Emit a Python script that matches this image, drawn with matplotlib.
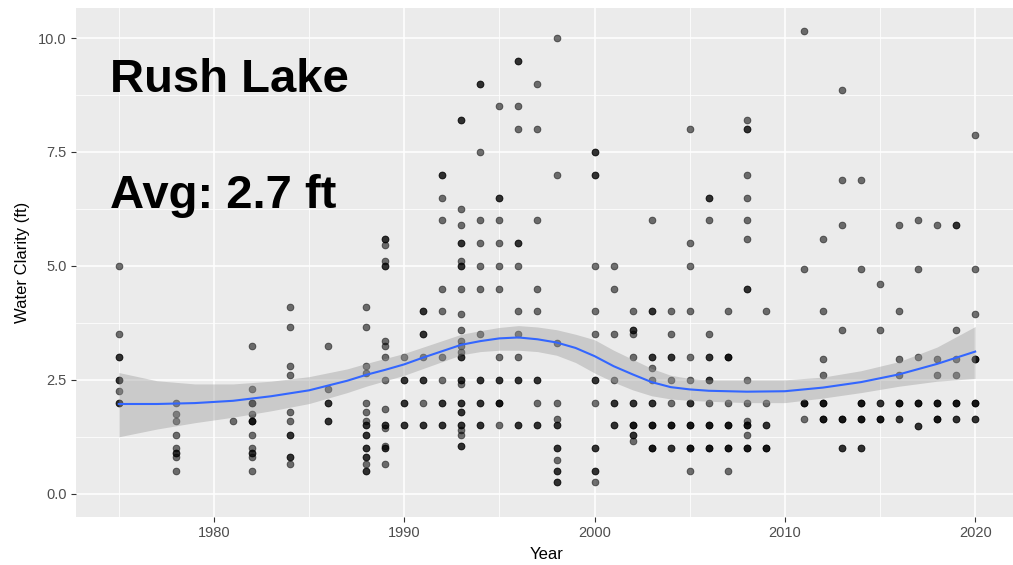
import matplotlib

matplotlib.use("Agg")
import matplotlib.pyplot as plt
from matplotlib.ticker import MultipleLocator

# Secchi readings (ft) per sampling year
years = [1975, 1978, 1981, 1982, 1984, 1986, 1988, 1989, 1990, 1991, 1992, 1993,
         1994, 1995, 1996, 1997, 1998, 2000, 2001, 2002, 2003, 2004, 2005, 2006,
         2007, 2008, 2009, 2011, 2012, 2013, 2014, 2015, 2016, 2017, 2018, 2019, 2020]
readings = [
    [5.0, 3.5, 3.0, 3.0, 2.5, 2.5, 2.25, 2.0, 2.0],
    [2.0, 1.75, 1.6, 1.3, 1.0, 0.9, 0.9, 0.8, 0.5],
    [1.6],
    [3.25, 2.3, 2.0, 2.0, 1.75, 1.6, 1.6, 1.6, 1.3, 1.0, 0.9, 0.9, 0.8, 0.5],
    [4.1, 3.65, 2.8, 2.6, 1.8, 1.6, 1.3, 1.3, 0.8, 0.8, 0.65],
    [3.25, 2.3, 2.0, 2.0, 1.6, 1.6],
    [4.1, 3.65, 2.8, 2.65, 2.0, 1.8, 1.6, 1.5, 1.5, 1.3, 1.3, 1.0, 1.0, 0.8, 0.8, 0.65, 0.5, 0.5],
    [5.6, 5.6, 5.45, 5.1, 5.0, 5.0, 3.35, 3.25, 3.0, 2.5, 1.85, 1.5, 1.5, 1.45, 1.05, 1.0, 1.0, 0.65],
    [3.0, 2.5, 2.5, 2.0, 2.0, 1.5, 1.5],
    [4.0, 4.0, 3.5, 3.5, 3.0, 2.5, 2.5, 2.0, 1.5, 1.5],
    [7.0, 7.0, 6.5, 6.0, 4.5, 4.0, 3.0, 2.5, 2.0, 2.0, 1.5, 1.5],
    [8.2, 8.2, 6.25, 5.9, 5.5, 5.5, 5.1, 5.0, 5.0, 4.5, 3.95, 3.6, 3.35, 3.25, 3.1, 3.0, 3.0,
     2.5, 2.5, 2.4, 2.0, 2.0, 1.8, 1.8, 1.5, 1.5, 1.4, 1.3, 1.05, 1.05],
    [9.0, 9.0, 7.5, 6.0, 5.5, 5.0, 4.5, 3.5, 2.5, 2.5, 2.0, 2.0, 1.5, 1.5],
    [8.5, 6.5, 6.5, 6.0, 5.5, 5.0, 4.5, 3.0, 2.5, 2.5, 2.0, 2.0, 2.0, 1.5],
    [9.5, 9.5, 8.5, 8.0, 5.5, 5.5, 5.0, 4.0, 3.5, 3.0, 2.5, 2.5, 1.5, 1.5],
    [9.0, 8.0, 6.0, 4.5, 4.0, 2.5, 2.5, 2.0, 1.5, 1.5],
    [10.0, 7.0, 3.3, 2.0, 1.65, 1.5, 1.5, 1.0, 1.0, 0.75, 0.5, 0.5, 0.25, 0.25],
    [7.5, 7.5, 7.0, 7.0, 5.0, 4.0, 3.5, 2.5, 2.5, 2.0, 1.0, 1.0, 0.5, 0.5, 0.25],
    [5.0, 4.5, 3.5, 2.5, 2.0, 2.0, 1.5, 1.5],
    [4.0, 3.6, 3.6, 3.5, 3.0, 2.0, 2.0, 1.5, 1.5, 1.5, 1.3, 1.3, 1.15],
    [6.0, 4.0, 4.0, 3.0, 3.0, 2.75, 2.5, 2.0, 2.0, 1.5, 1.5, 1.5, 1.0, 1.0, 1.0],
    [4.0, 3.5, 3.0, 3.0, 2.5, 2.0, 1.5, 1.5, 1.5, 1.0, 1.0],
    [8.0, 5.5, 5.0, 4.0, 3.0, 2.5, 2.0, 2.0, 1.5, 1.5, 1.5, 1.0, 1.0, 1.0, 0.5],
    [6.5, 6.5, 6.0, 3.5, 3.0, 3.0, 2.5, 2.5, 2.0, 1.5, 1.5, 1.5, 1.0, 1.0, 1.0],
    [4.0, 3.0, 3.0, 3.0, 2.0, 1.5, 1.5, 1.5, 1.0, 1.0, 1.0, 0.5],
    [8.2, 8.0, 8.0, 7.0, 6.5, 6.0, 5.6, 4.5, 4.5, 2.5, 2.0, 1.6, 1.5, 1.5, 1.5, 1.3, 1.0, 1.0, 1.0],
    [4.0, 2.0, 1.5, 1.5, 1.0, 1.0, 1.0],
    [10.15, 4.93, 2.0, 2.0, 2.0, 1.63],
    [5.6, 4.0, 2.95, 2.6, 2.0, 2.0, 2.0, 1.65, 1.65, 1.65],
    [8.85, 6.88, 5.9, 3.6, 1.63, 1.63, 1.63, 1.0, 1.0],
    [6.88, 4.93, 2.0, 2.0, 2.0, 1.63, 1.63, 1.63, 1.0, 1.0],
    [4.6, 3.6, 2.0, 2.0, 1.63, 1.63, 1.63],
    [5.9, 4.0, 2.96, 2.61, 2.0, 2.0, 2.0, 1.63, 1.63],
    [6.0, 4.93, 3.0, 2.0, 2.0, 2.0, 1.48, 1.48],
    [5.9, 2.96, 2.61, 2.0, 2.0, 2.0, 1.63, 1.63, 1.63],
    [5.9, 5.9, 3.6, 2.96, 2.61, 2.0, 2.0, 2.0, 1.63, 1.63],
    [7.87, 4.93, 3.94, 2.96, 2.96, 2.96, 2.0, 2.0, 2.0, 1.63, 1.63],
]

# loess trend + confidence band
fit_year = [1975, 1977, 1979, 1981, 1983, 1985, 1987, 1988, 1989, 1990, 1991, 1992,
            1993, 1994, 1995, 1996, 1997, 1998, 1999, 2000, 2001, 2002, 2003, 2004,
            2005, 2006, 2008, 2010, 2012, 2014, 2016, 2018, 2020]
fit = [1.97, 1.97, 1.99, 2.04, 2.14, 2.27, 2.48, 2.61, 2.72, 2.84, 2.99, 3.13,
       3.27, 3.35, 3.41, 3.43, 3.39, 3.32, 3.2, 3.02, 2.8, 2.62, 2.45, 2.34,
       2.29, 2.26, 2.24, 2.25, 2.33, 2.45, 2.62, 2.85, 3.12]
fit_lo = [1.25, 1.42, 1.56, 1.68, 1.82, 1.98, 2.22, 2.36, 2.48, 2.6, 2.75, 2.9,
          3.05, 3.12, 3.15, 3.15, 3.12, 3.04, 2.88, 2.65, 2.45, 2.28, 2.15, 2.08,
          2.05, 2.03, 2.0, 2.0, 2.1, 2.22, 2.36, 2.47, 2.53]
fit_hi = [2.66, 2.48, 2.41, 2.41, 2.47, 2.57, 2.74, 2.86, 2.97, 3.08, 3.22, 3.36,
          3.5, 3.58, 3.65, 3.69, 3.66, 3.6, 3.5, 3.38, 3.15, 2.95, 2.75, 2.6,
          2.53, 2.5, 2.5, 2.5, 2.56, 2.7, 2.9, 3.22, 3.67]

lake = "Rush Lake"
avg_label = "Avg: 2.7 ft"

plt.rcParams["font.family"] = ["Liberation Sans", "DejaVu Sans"]

fig = plt.figure(figsize=(10.13, 5.65), dpi=100)
ax = fig.add_axes([76 / 1013, 48 / 565, 942 / 1013, 509 / 565])
ax.set_facecolor("#EBEBEB")
for s in ax.spines.values():
    s.set_visible(False)

ax.set_xlim(1972.75, 2022.25)
ax.set_ylim(-0.51, 10.66)
ax.xaxis.set_major_locator(MultipleLocator(10))
ax.xaxis.set_minor_locator(MultipleLocator(5))
ax.yaxis.set_major_locator(MultipleLocator(2.5))
ax.yaxis.set_minor_locator(MultipleLocator(1.25))
ax.yaxis.set_major_formatter(lambda v, _: f"{v:.1f}")
ax.grid(which="major", color="white", lw=1.1)
ax.grid(which="minor", color="white", lw=0.55)
ax.set_axisbelow(True)
ax.tick_params(which="major", length=3.5, width=0.8, color="#333333",
               labelsize=10.5, labelcolor="#4D4D4D", pad=3)
ax.tick_params(which="minor", length=0)

xs = [y for y, vals in zip(years, readings) for _ in vals]
vs = [v for vals in readings for v in vals]
ax.scatter(xs, vs, s=24, color="black", alpha=0.55, edgecolors="black",
           linewidths=0.6, zorder=3)

ax.fill_between(fit_year, fit_lo, fit_hi, color="#999999", alpha=0.4, lw=0, zorder=4)
ax.plot(fit_year, fit, color="#3366FF", lw=1.5, zorder=5)

ax.text(1974.55, 8.81, lake, fontsize=34, fontweight="bold", va="baseline", zorder=6)
ax.text(1974.55, 6.28, avg_label, fontsize=34, fontweight="bold", va="baseline", zorder=6)

ax.set_xlabel("Year", fontsize=12, labelpad=5)
ax.set_ylabel("Water Clarity (ft)", fontsize=12, labelpad=6)

fig.savefig("out.png", dpi=100)
